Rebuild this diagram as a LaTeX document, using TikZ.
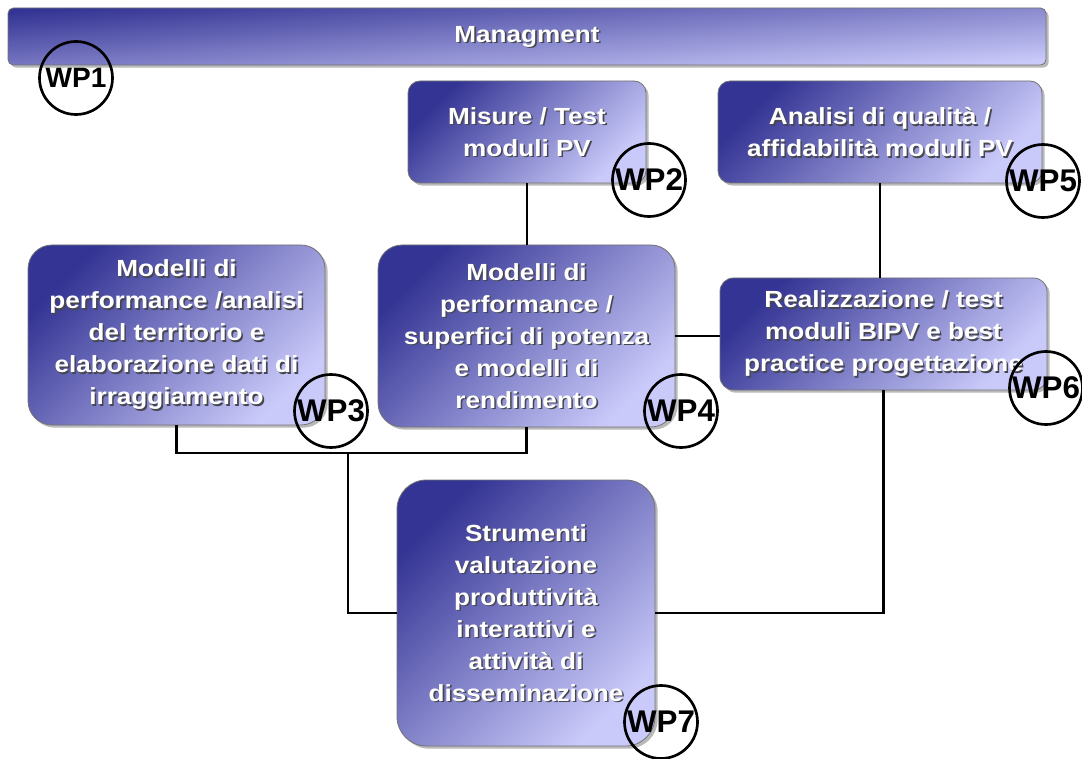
\documentclass[tikz,border=0pt]{standalone}
\usepackage{fontspec}
\setmainfont{Liberation Sans}
\newfontfamily\boxfont[FakeStretch=1.12]{Liberation Sans}
\usetikzlibrary{shadows}
\definecolor{boxdark}{RGB}{52,52,148}
\definecolor{boxmid}{RGB}{128,128,200}
\definecolor{boxlight}{RGB}{202,202,250}
\definecolor{txtshadow}{RGB}{70,70,80}
\newcommand\wpnode[7][]{%
  \node[wpbox=#7, minimum width={(#5-#3)*0.75pt}, minimum height={(#6-#4)*0.75pt}, #1] (#2) at ({(#3+#5)/2},{(#4+#6)/2}) {};}
\newcommand\wptext[2]{%
  \node[txt, text=txtshadow] at ([xshift=1.2pt,yshift=-1.2pt]#1.center) {#2};
  \node[txt, text=white] at (#1.center) {#2};}
\begin{document}
\begin{tikzpicture}[x=0.75pt,y=-0.75pt,
  wpbox/.style={rectangle, rounded corners=#1, draw=black!55, line width=0.6pt,
    top color=boxdark, bottom color=boxlight, middle color=boxmid, shading angle=45,
    drop shadow={shadow xshift=2pt, shadow yshift=-2pt, fill=black!50, opacity=0.55},
    inner sep=0pt},
  wpbox/.default=9pt,
  txt/.style={font=\boxfont\bfseries\fontsize{17.5}{24}\selectfont, align=center, inner sep=0pt},
  wpcirc/.style={circle, draw=black, line width=2pt, minimum size={73*0.75pt}, inner sep=0pt,
    font=\bfseries\fontsize{23.5}{23.5}\selectfont},
  conn/.style={draw=black, line width=2pt}]
\useasboundingbox (0,0) rectangle (1082,759);
\fill[white] (0,0) rectangle (1082,759);
% boxes
\wpnode[shading angle=4]{bar}{8}{8}{1046}{65}{4pt}
\wpnode{wp2}{408}{81}{646}{183}{9pt}
\wpnode{wp5}{718}{81}{1042}{183}{9pt}
\wpnode{wp3}{28}{245}{325}{425}{18pt}
\wpnode{wp4}{378}{245}{675}{427}{18pt}
\wpnode{wp6}{720}{278}{1047}{390}{10pt}
\wpnode{wp7}{397}{480}{655}{746}{22pt}
% connectors
\coordinate (bus) at (348,453);
\draw[conn] (wp2.south) -- (wp2.south |- wp4.north);
\draw[conn] (wp5.south) -- (wp5.south |- wp6.north);
\draw[conn] (wp4.east) -- (wp4.east -| wp6.west);
\draw[conn] (wp3.south) |- (bus -| wp4.south) -- (wp4.south);
\draw[conn] (bus) |- (wp7.west);
\draw[conn] (wp7.east) -| (wp6.south);
% texts
\wptext{bar}{Managment}
\wptext{wp2}{Misure / Test\\moduli PV}
\wptext{wp5}{Analisi di qualità /\\affidabilità moduli PV}
\wptext{wp3}{Modelli di\\performance /analisi\\del territorio e\\elaborazione dati di\\irraggiamento}
\wptext{wp4}{Modelli di\\performance /\\superfici di potenza\\e modelli di\\rendimento}
\wptext{wp6}{Realizzazione / test\\moduli BIPV e best\\practice progettazione}
\wptext{wp7}{Strumenti\\valutazione\\produttività\\interattivi e\\attività di\\disseminazione}
% WP circles
\node[wpcirc, font=\bfseries\fontsize{21}{21}\selectfont] (c1) at (76,78) {WP1};
\node[wpcirc] (c2) at (649,180) {WP2};
\node[wpcirc] (c5) at (1043,181) {WP5};
\node[wpcirc] (c3) at (331,411) {WP3};
\node[wpcirc] (c4) at (681,411) {WP4};
\node[wpcirc] (c6) at (1046,388) {WP6};
\node[wpcirc] (c7) at (661,722) {WP7};
\end{tikzpicture}
\end{document}
